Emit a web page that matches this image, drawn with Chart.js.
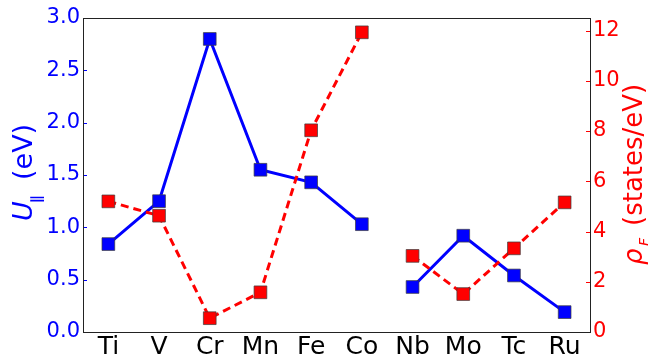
<!DOCTYPE html>
<html>
<head>
<meta charset="utf-8">
<script src="https://cdn.jsdelivr.net/npm/chart.js@4.4.0/dist/chart.umd.min.js"></script>
<style>
  html, body { margin: 0; padding: 0; background: #fff; }
  #wrap { width: 648px; height: 358px; }
</style>
</head>
<body>
<div id="wrap"><canvas id="chart" width="648" height="358"></canvas></div>
<script>
// Data
const elements = ['Ti', 'V', 'Cr', 'Mn', 'Fe', 'Co', 'Nb', 'Mo', 'Tc', 'Ru'];
const uValues = [0.84, 1.25, 2.80, 1.55, 1.43, 1.03, 0.43, 0.92, 0.54, 0.19];
const rhoValues = [5.2, 4.63, 0.55, 1.58, 8.03, 11.93, 3.03, 1.51, 3.33, 5.16];
const uTicks = [0, 0.5, 1.0, 1.5, 2.0, 2.5, 3.0];
const rhoTicks = [0, 2, 4, 6, 8, 10, 12];

const FONT = '"DejaVu Sans", sans-serif';
const BLUE = '#0000ff';
const RED = '#ff0000';

// no line between the 3d and 4d rows (Co -> Nb)
const gapAfter = 5;
const hideGap = ctx => ctx.p0DataIndex === gapAfter ? 'rgba(0,0,0,0)' : undefined;

// frame, inward ticks and the two axis titles with subscripts
const decorations = {
    id: 'decorations',
    afterDraw(chart) {
        const ctx = chart.ctx;
        const area = chart.chartArea;
        const y = chart.scales.y;
        const y1 = chart.scales.y1;

        ctx.save();
        ctx.lineWidth = 1;
        ctx.strokeStyle = BLUE;
        uTicks.forEach(v => {
            const py = Math.round(y.getPixelForValue(v)) + 0.5;
            ctx.beginPath();
            ctx.moveTo(area.left, py);
            ctx.lineTo(area.left + 4, py);
            ctx.stroke();
        });
        ctx.strokeStyle = RED;
        rhoTicks.forEach(v => {
            const py = Math.round(y1.getPixelForValue(v)) + 0.5;
            ctx.beginPath();
            ctx.moveTo(area.right, py);
            ctx.lineTo(area.right - 4, py);
            ctx.stroke();
        });
        ctx.strokeStyle = '#222';
        ctx.strokeRect(Math.round(area.left) + 0.5, Math.round(area.top) + 0.5,
            Math.round(area.right - area.left), Math.round(area.bottom - area.top));
        ctx.restore();

        // parts: start = screen y where the part begins (text runs upward)
        drawTitle(ctx, 31.5, BLUE, [
            { text: 'U', font: 'italic 27px ' + FONT, start: 221, dy: 0 },
            { text: '\u2225', font: '14px ' + FONT, start: 204, dy: 9, sx: 1.4 },
            { text: '(eV)', font: '27px ' + FONT, start: 180, dy: 0 }
        ]);
        drawTitle(ctx, 642, RED, [
            { text: '\u03c1', font: 'italic 26px ' + FONT, start: 265, dy: 0 },
            { text: 'F', font: 'italic 14px ' + FONT, start: 246, dy: 7 },
            { text: '(states/eV)', font: '26px ' + FONT, start: 226, dy: 0 }
        ]);
    }
};

// rotated title, reading bottom to top, baseline at screen x = bx
function drawTitle(ctx, bx, color, parts) {
    ctx.save();
    ctx.fillStyle = color;
    ctx.textBaseline = 'alphabetic';
    ctx.textAlign = 'left';
    ctx.translate(bx, 0);
    ctx.rotate(-Math.PI / 2);
    parts.forEach(p => {
        ctx.save();
        ctx.font = p.font;
        ctx.translate(-p.start, p.dy);
        if (p.sx) ctx.scale(p.sx, 1);
        ctx.fillText(p.text, 0, 0);
        ctx.restore();
    });
    ctx.restore();
}

new Chart(document.getElementById('chart'), {
    type: 'line',
    data: {
        labels: elements,
        datasets: [{
            label: 'rho',
            data: rhoValues,
            yAxisID: 'y1',
            order: 0,
            borderColor: RED,
            borderWidth: 3,
            borderDash: [8, 5],
            pointStyle: 'rect',
            pointRadius: 9,
            pointBackgroundColor: RED,
            pointBorderColor: 'rgba(60,60,60,0.7)',
            pointBorderWidth: 1,
            segment: { borderColor: hideGap }
        }, {
            label: 'U',
            data: uValues,
            yAxisID: 'y',
            order: 1,
            borderColor: BLUE,
            borderWidth: 3,
            pointStyle: 'rect',
            pointRadius: 9,
            pointBackgroundColor: BLUE,
            pointBorderColor: 'rgba(60,60,60,0.7)',
            pointBorderWidth: 1,
            segment: { borderColor: hideGap }
        }]
    },
    options: {
        responsive: false,
        animation: false,
        layout: { padding: { top: 18, left: 0, right: 0, bottom: 0 } },
        plugins: {
            legend: { display: false },
            tooltip: { enabled: false }
        },
        scales: {
            x: {
                offset: true,
                grid: { display: false, drawTicks: false },
                border: { display: false },
                ticks: {
                    color: '#000',
                    font: { family: FONT, size: 25 },
                    padding: 0,
                    maxRotation: 0,
                    autoSkip: false
                },
                afterFit(scale) { scale.height = 26; }
            },
            y: {
                position: 'left',
                min: 0,
                max: 3,
                grid: { display: false, drawTicks: false },
                border: { display: false },
                ticks: {
                    stepSize: 0.5,
                    color: BLUE,
                    padding: 3,
                    font: { family: FONT, size: 21 },
                    callback: v => v.toFixed(1)
                },
                afterFit(scale) { scale.width = 83; }
            },
            y1: {
                position: 'right',
                min: 0,
                max: 12.5,
                grid: { display: false, drawTicks: false },
                border: { display: false },
                ticks: {
                    color: RED,
                    padding: 3,
                    font: { family: FONT, size: 21 }
                },
                afterBuildTicks(scale) {
                    scale.ticks = rhoTicks.map(v => ({ value: v }));
                },
                afterFit(scale) { scale.width = 58; }
            }
        }
    },
    plugins: [decorations]
});
</script>
</body>
</html>
